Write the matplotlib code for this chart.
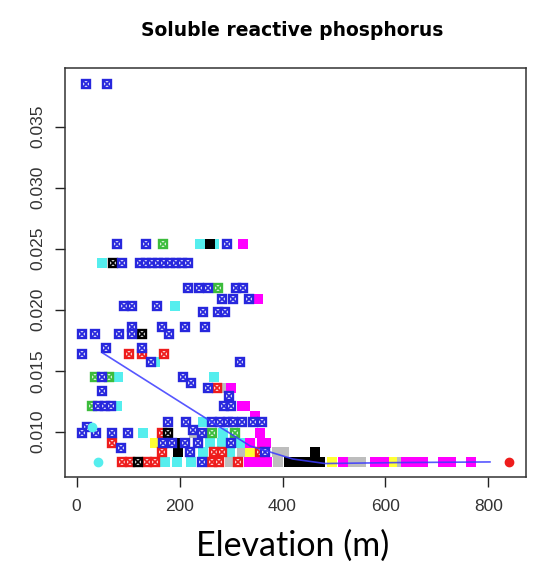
import matplotlib.pyplot as plt
import numpy as np

# boxed-cross sites (pch 7 style)
blue_x = [19, 58, 78, 135, 293,
          88, 123, 135, 147, 158, 170, 181, 193, 205, 216,
          216, 238, 256, 310, 324,
          283, 304, 335,
          92, 108, 157,
          245, 275, 288,
          107, 165, 210, 250,
          10, 36, 83, 107, 180,
          57, 126,
          11,
          144, 318,
          50, 206,
          222, 256, 49, 295,
          41, 55, 67, 286, 299,
          177, 212, 263, 279, 294, 304, 321, 343, 360,
          21, 226,
          11, 37, 68, 99, 243,
          168, 185, 210, 236, 300,
          86, 220, 366, 243]
blue_y = [0.0385, 0.0385, 0.0254, 0.0254, 0.0254,
          0.0238, 0.0238, 0.0238, 0.0238, 0.0238, 0.0238, 0.0238, 0.0238, 0.0238, 0.0238,
          0.0218, 0.0218, 0.0218, 0.0218, 0.0218,
          0.0209, 0.0209, 0.0209,
          0.0203, 0.0203, 0.0203,
          0.0198, 0.0198, 0.0198,
          0.0186, 0.0186, 0.0186, 0.0186,
          0.0180, 0.0180, 0.0180, 0.0180, 0.0180,
          0.0169, 0.0169,
          0.0164,
          0.0157, 0.0157,
          0.0145, 0.0145,
          0.0140, 0.0136, 0.0133, 0.0129,
          0.0121, 0.0121, 0.0121, 0.0121, 0.0121,
          0.0108, 0.0108, 0.0108, 0.0108, 0.0108, 0.0108, 0.0108, 0.0108, 0.0108,
          0.0104, 0.0101,
          0.0099, 0.0099, 0.0099, 0.0099, 0.0099,
          0.0091, 0.0091, 0.0091, 0.0091, 0.0091,
          0.0087, 0.0083, 0.0083, 0.0075]

red_x = [102, 126, 170, 273, 165, 69, 165, 266, 282, 356, 88, 104, 136, 152, 262, 277, 314]
red_y = [0.0164, 0.0164, 0.0164, 0.0136, 0.0099, 0.0091, 0.0083, 0.0083, 0.0083, 0.0083,
         0.0075, 0.0075, 0.0075, 0.0075, 0.0075, 0.0075, 0.0075]

green_x = [167, 274, 36, 63, 30, 263, 308]
green_y = [0.0254, 0.0218, 0.0145, 0.0145, 0.0121, 0.0099, 0.0099]

blackx_x = [70, 127, 178, 120]
blackx_y = [0.0238, 0.0180, 0.0099, 0.0075]

# filled squares
cyan_x = [240, 267, 50, 191, 152, 80, 267, 78, 128, 285, 259, 282, 317, 246, 298, 172, 194, 223, 246]
cyan_y = [0.0254, 0.0254, 0.0238, 0.0203, 0.0157, 0.0145, 0.0145, 0.0121, 0.0099, 0.0099,
          0.0091, 0.0091, 0.0091, 0.0083, 0.0083, 0.0075, 0.0075, 0.0075, 0.0108]

black_x = [259, 204, 197, 413, 428, 437, 453, 473, 464]
black_y = [0.0254, 0.0091, 0.0083, 0.0075, 0.0075, 0.0075, 0.0075, 0.0075, 0.0083]

magenta_x = [323, 353, 300, 321, 327, 347, 356, 337, 360, 368,
             334, 352, 369, 518, 580, 597, 640, 654, 673, 712, 727, 766]
magenta_y = [0.0254, 0.0209, 0.0136, 0.0121, 0.0121, 0.0113, 0.0099, 0.0091, 0.0091, 0.0091,
             0.0075, 0.0075, 0.0075, 0.0075, 0.0075, 0.0075, 0.0075, 0.0075, 0.0075, 0.0075,
             0.0075, 0.0075]

gray_x = [284, 228, 321, 389, 402, 298, 304, 392, 534, 553, 625]
gray_y = [0.0136, 0.0099, 0.0083, 0.0083, 0.0083, 0.0075, 0.0075, 0.0075, 0.0075, 0.0075, 0.0075]

yellow_x = [152, 337, 345, 496, 613, 642]
yellow_y = [0.0091, 0.0083, 0.0083, 0.0075, 0.0075, 0.0075]

cyan_dot_x = [41, 30]
cyan_dot_y = [0.0075, 0.0104]
red_dot_x = [839]
red_dot_y = [0.0075]

# smoother
fit_x = [51, 230, 337, 376, 420, 483, 628, 803]
fit_y = [0.01644, 0.01166, 0.00883, 0.00833, 0.00776, 0.00739, 0.00747, 0.00752]

C_BLUE = '#2727dd'
C_RED = '#ee1c1c'
C_GREEN = '#3cbc3c'
C_CYAN = '#55eeee'
C_MAG = '#ff00ff'
C_GRAY = '#bdbdbd'
C_YEL = '#ffff33'

MS = 7.6


def squares(ax, x, y, color):
    ax.plot(x, y, ls='none', marker='s', ms=MS, mfc=color, mec=color, mew=0)


def boxcross(ax, x, y, color):
    ax.plot(x, y, ls='none', marker='s', ms=MS - 1.3, mfc='white', mec=color, mew=1.7)
    ax.plot(x, y, ls='none', marker='x', ms=MS - 2.6, mec=color, mew=1.3)


fig = plt.figure(figsize=(5.39, 5.70), dpi=100)
ax = fig.add_axes([65 / 539, 1 - 476.7 / 570, 461 / 539, 408.4 / 570])

squares(ax, gray_x, gray_y, C_GRAY)
squares(ax, yellow_x, yellow_y, C_YEL)
squares(ax, magenta_x, magenta_y, C_MAG)
squares(ax, cyan_x, cyan_y, C_CYAN)
squares(ax, black_x, black_y, 'black')
boxcross(ax, green_x, green_y, C_GREEN)
boxcross(ax, red_x, red_y, C_RED)
boxcross(ax, blackx_x, blackx_y, 'black')
boxcross(ax, blue_x, blue_y, C_BLUE)
ax.plot(cyan_dot_x, cyan_dot_y, ls='none', marker='o', ms=6, mfc=C_CYAN, mec=C_CYAN)
ax.plot(red_dot_x, red_dot_y, ls='none', marker='o', ms=6, mfc=C_RED, mec=C_RED)
ax.plot(fit_x, fit_y, color='#3a3aff', lw=1.2, alpha=0.85)

ax.set_xlim(-22.7, 873)
ax.set_ylim(0.00631, 0.03979)
ax.set_xticks([0, 200, 400, 600, 800])
ax.set_yticks([0.010, 0.015, 0.020, 0.025, 0.030, 0.035])
ax.set_yticklabels(['0.010', '0.015', '0.020', '0.025', '0.030', '0.035'],
                   rotation=90, va='center')
ax.tick_params(length=7, width=1, color='#222222', labelsize=12.5,
               labelcolor='#333333')
ax.tick_params(axis='x', pad=9)
ax.tick_params(axis='y', pad=7)
for lab in ax.get_xticklabels() + ax.get_yticklabels():
    lab.set_family('Liberation Sans')
for sp in ax.spines.values():
    sp.set_color('#333333')
    sp.set_linewidth(1.1)

fig.text(292 / 539, 1 - 30 / 570, 'Soluble reactive phosphorus', ha='center', va='center',
         fontsize=13.5, fontweight='bold', family='DejaVu Sans')
fig.text(293 / 539, 1 - 546 / 570, 'Elevation (m)', ha='center', va='center',
         fontsize=24.5, family='Lato')

fig.savefig('out.png', dpi=100)
